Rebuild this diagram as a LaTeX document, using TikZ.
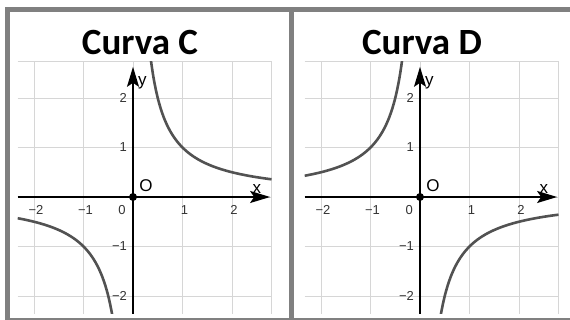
\documentclass[tikz,border=0pt]{standalone}
\usepackage{fontspec}
\setmainfont{Liberation Sans}
\newfontfamily\titlefont{Carlito}
\usetikzlibrary{arrows.meta,positioning}

\begin{document}
\begin{tikzpicture}[
x=1pt, y=1pt,
grid line/.style={black!16, line width=0.9pt},
axis/.style={line width=1.5pt, -{Stealth[length=20pt,width=12pt,inset=4pt]}},
curve/.style={black!68, line width=2.6pt},
tick/.style={font=\fontsize{13}{13}\selectfont, text=black!80, inner sep=0pt},
lbl/.style={font=\fontsize{17}{17}\selectfont, inner sep=0pt},
title/.style={font=\titlefont\bfseries\fontsize{37}{37}\selectfont, inner sep=0pt},
frame/.style={fill=gray, draw=none}
]
\useasboundingbox (0,0) rectangle (570,320);

% Frame
\fill[frame] (5,308) rectangle (570,313);
\fill[frame] (5,0) rectangle (10,313);
\fill[frame] (289,0) rectangle (294,313);
\fill[frame] (5,0) rectangle (570,1.5);

% Titles
\node[title] (titleC) at (140,277) {Curva C};
\node[title] (titleD) at (422,277) {Curva D};

% Panels
\foreach \ox/\sgn/\pan in {133/1/C, 420/-1/D}{
\begin{scope}[shift={(\ox pt,123pt)}, x=49.5pt, y=49.5pt]
  \draw[grid line, step=1] (-2.33,-2.36) grid (2.8,2.74);
  \draw[grid line] (-2.33,2.74) -- (2.8,2.74) -- (2.8,-2.36);
  \begin{scope}
    \clip (-2.33,-2.36) rectangle (2.8,2.74);
    \draw[curve] plot[smooth, samples=80, domain=0.3:2.8] (\x,{\sgn/\x});
    \draw[curve] plot[smooth, samples=80, domain=-2.33:-0.3] (\x,{\sgn/\x});
  \end{scope}
  \draw[axis] (-2.33,0) -- (2.77,0);
  \draw[axis] (0,-2.36) -- (0,2.63);
  \fill (0,0) circle (4pt);
  \node[lbl, anchor=west] (y\pan) at (0.1,2.3) {y};
  \node[lbl] (x\pan) at (2.5,0.17) {x};
  \node[lbl] (O\pan) at (0.26,0.22) {O};
  \foreach \t/\s in {-2/−2, -1/−1, 1/1, 2/2}{
    \node[tick] (xt\pan\t) at (\t+0.04,-0.27) {\s};
    \node[tick, anchor=east] (yt\pan\t) at (-0.12,\t) {\s};
  }
  \node[tick] (zero\pan) at (-0.22,-0.27) {0};
\end{scope}
}
\end{tikzpicture}
\end{document}
